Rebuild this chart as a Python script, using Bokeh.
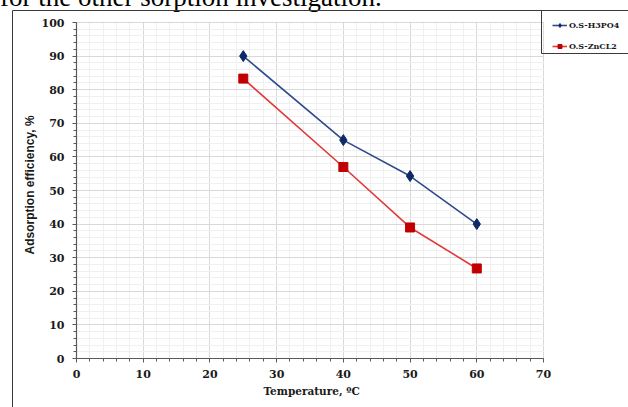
from bokeh.plotting import figure
from bokeh.layouts import column
from bokeh.models import (Range1d, Legend, LegendItem, Div, BoxAnnotation, Title,
                          SingleIntervalTicker, ColumnDataSource)
from bokeh.embed import file_html
from bokeh.resources import INLINE

# ---- data ----
temperature = [25, 40, 50, 60]
h3po4 = [90, 65, 54.3, 40]
zncl2 = [83.3, 57, 39, 26.8]
series_names = ["O.S-H3PO4", "O.S-ZnCL2"]
header_text = "for the other sorption investigation."
x_title = "Temperature, ºC"
y_title = "Adsorption efficiency, %"
x_lim = (0, 70)
y_lim = (0, 100)

W, H = 628, 407
FL, FB = 76, 358          # left edge and bottom edge of the frame (px)
X70, Y100 = 543, 22       # pixel position of x=70 and y=100
# the frame runs to the right and top edges of the canvas so the legend fits in it
x_max = x_lim[1] * (W - FL) / (X70 - FL)
y_max = y_lim[1] * FB / (FB - Y100)

p = figure(width=W, height=H, output_backend="svg", toolbar_location=None,
           x_range=Range1d(0, x_max), y_range=Range1d(0, y_max),
           min_border_left=FL, min_border_right=0,
           min_border_top=0, min_border_bottom=H - FB)
p.outline_line_color = None
p.background_fill_color = "white"
p.border_fill_color = "white"

# ticks / grid
p.xaxis.ticker = SingleIntervalTicker(interval=10, num_minor_ticks=5)
p.yaxis.ticker = SingleIntervalTicker(interval=10, num_minor_ticks=5)
p.xaxis.bounds = x_lim
p.yaxis.bounds = y_lim
for g in (p.xgrid[0], p.ygrid[0]):
    g.grid_line_color = "#d9d9d9"
    g.grid_line_width = 1
    g.minor_grid_line_color = "#f0f0f0"
    g.minor_grid_line_width = 1

# blank out grid outside the plot area (x > 70, y > 100)
for kw in (dict(left=x_lim[1] + 0.1), dict(bottom=y_lim[1] + 0.2)):
    p.add_layout(BoxAnnotation(fill_color="white", fill_alpha=1, line_color=None,
                               level="underlay", **kw))

# axes
for ax in (p.xaxis[0], p.yaxis[0]):
    ax.axis_line_color = "#595959"
    ax.axis_line_width = 1.2
    ax.major_tick_line_color = "#595959"
    ax.minor_tick_line_color = "#595959"
    ax.major_tick_in = 0
    ax.major_tick_out = 4
    ax.minor_tick_in = 0
    ax.minor_tick_out = 3
    ax.major_label_text_font = "DejaVu Serif"
    ax.major_label_text_font_style = "bold"
    ax.major_label_text_font_size = "11px"
    ax.major_label_text_color = "#1a1a1a"
p.xaxis.major_label_standoff = 7
p.yaxis.major_label_standoff = 8

# axis titles, placed under / beside the plot area (0..70, 0..100)
xt = Title(text=x_title, align="left", offset=187,
           text_font="DejaVu Serif", text_font_style="bold",
           text_font_size="10.5px", text_color="#1a1a1a", standoff=4)
p.add_layout(xt, "below")
yt = Title(text=y_title, align="left", offset=104,
           text_font="Liberation Sans", text_font_style="bold",
           text_font_size="12px", text_color="#1a1a1a", standoff=4)
p.add_layout(yt, "left")

# series
src1 = ColumnDataSource(dict(x=temperature, y=h3po4))
src2 = ColumnDataSource(dict(x=temperature, y=zncl2))
l1 = p.line("x", "y", source=src1, line_color="#2f4b8a", line_width=1.6)
m1 = p.scatter("x", "y", source=src1, marker="diamond", size=11,
               fill_color="#0d2a66", line_color="#0d2a66")
l2 = p.line("x", "y", source=src2, line_color="#e03a3a", line_width=1.6)
m2 = p.scatter("x", "y", source=src2, marker="square", size=9,
               fill_color="#c00000", line_color="#c00000")

# legend
legend = Legend(items=[LegendItem(label=series_names[0], renderers=[l1, m1]),
                       LegendItem(label=series_names[1], renderers=[l2, m2])],
                location=(552 - FL, FB - 50.5), orientation="vertical")
legend.label_text_font = "DejaVu Serif"
legend.label_text_font_style = "bold"
legend.label_text_font_size = "8px"
legend.label_text_color = "#1a1a1a"
legend.glyph_width = 15
legend.glyph_height = 10
legend.label_height = 10
legend.label_standoff = 2
legend.spacing = 11
legend.padding = 4
legend.margin = 0
legend.border_line_color = None
legend.background_fill_alpha = 0
legend.label_text_baseline = "middle"
p.add_layout(legend)

# overlay: document text above the chart, chart-area border and legend box
overlay_html = (
    f'<svg width="{W}" height="{H}" xmlns="http://www.w3.org/2000/svg" '
    f'style="display:block">'
    f'<text x="0" y="6" style="font-family:\'Liberation Serif\',serif;'
    f'font-size:27px;fill:#000">{header_text}</text>'
    f'<path d="M12.5 {H} L12.5 10.5 L{W} 10.5" fill="none" stroke="#3a3a3a" stroke-width="1"/>'
    f'<path d="M{W} 53.5 L541.5 53.5 L541.5 10.5" fill="none" stroke="#3a3a3a" stroke-width="1"/>'
    f'</svg>'
)
overlay = Div(text=overlay_html, width=W, height=H,
              styles={"position": "absolute", "top": "0px", "left": "0px",
                      "pointer-events": "none", "margin": "0px", "padding": "0px"})

layout = column(p, overlay, spacing=0)
open("out.html", "w").write(file_html(layout, INLINE))
